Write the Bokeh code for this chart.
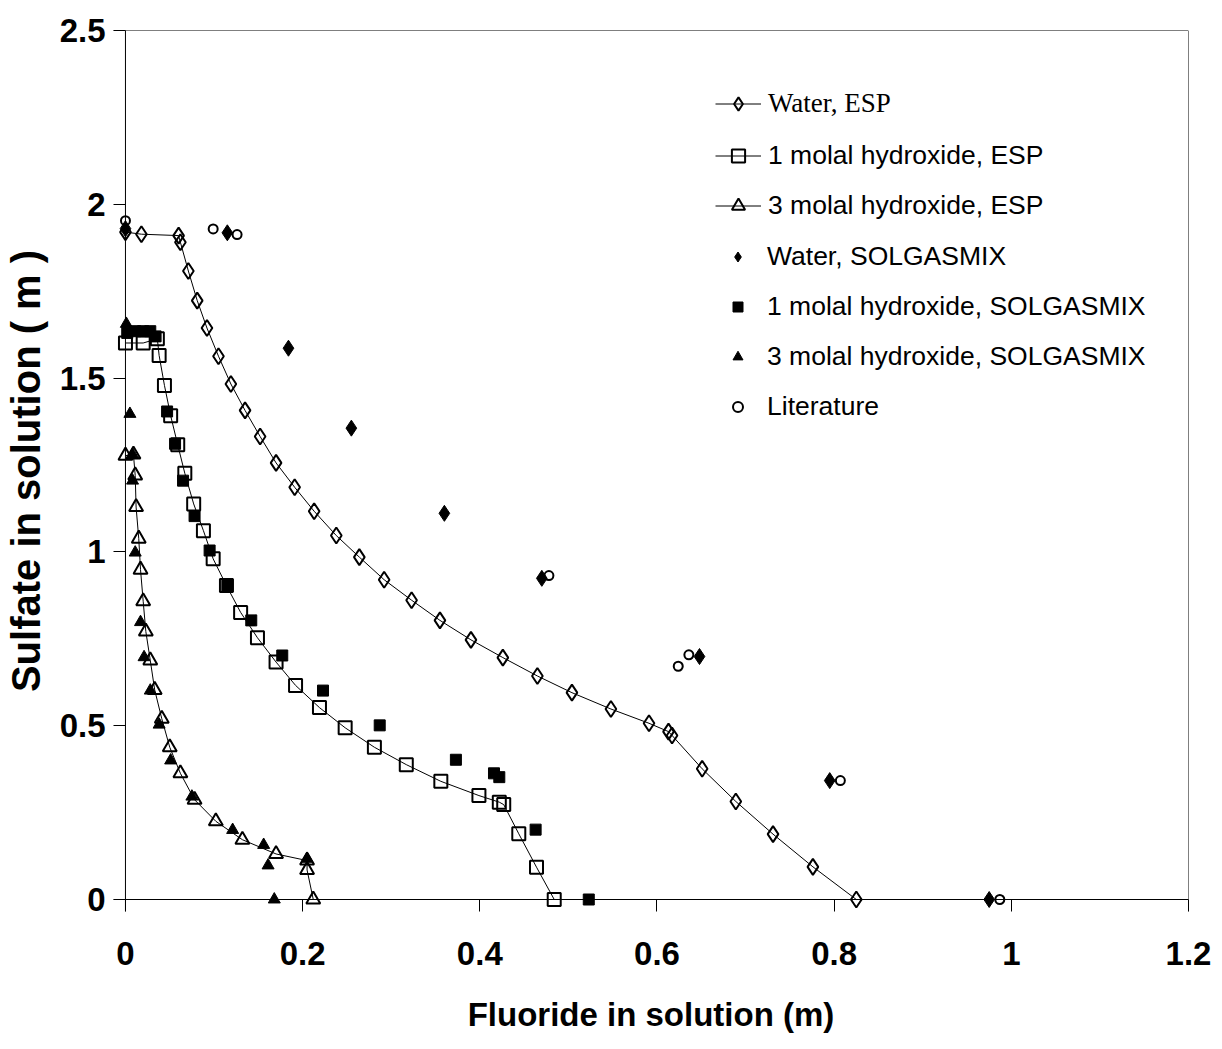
from bokeh.plotting import figure
from bokeh.models import (Range1d, FixedTicker, NumeralTickFormatter, Span,
                          Legend, LegendItem)
from bokeh.embed import file_html
from bokeh.resources import INLINE

# ---------------- data ----------------
x_ticks = [0, 0.2, 0.4, 0.6, 0.8, 1.0, 1.2]
y_ticks = [0, 0.5, 1.0, 1.5, 2.0, 2.5]

water_esp_x = [0.0, 0.018, 0.060, 0.062, 0.071, 0.081, 0.092, 0.105, 0.119, 0.135,
               0.152, 0.170, 0.191, 0.213, 0.238, 0.264, 0.292, 0.323, 0.355, 0.390,
               0.426, 0.465, 0.504, 0.548, 0.591, 0.613, 0.617, 0.651, 0.689, 0.731,
               0.776, 0.825]
water_esp_y = [1.920, 1.914, 1.910, 1.891, 1.808, 1.723, 1.644, 1.563, 1.483, 1.407,
               1.332, 1.256, 1.186, 1.117, 1.047, 0.985, 0.920, 0.861, 0.803, 0.747,
               0.696, 0.643, 0.595, 0.548, 0.507, 0.483, 0.472, 0.376, 0.282, 0.188,
               0.094, 0.0]

one_esp_x = [0.0, 0.020, 0.036, 0.038, 0.044, 0.051, 0.059, 0.067, 0.077, 0.088,
             0.099, 0.114, 0.130, 0.149, 0.170, 0.192, 0.219, 0.248, 0.281, 0.317,
             0.356, 0.399, 0.422, 0.427, 0.444, 0.464, 0.484]
one_esp_y = [1.601, 1.601, 1.613, 1.565, 1.479, 1.392, 1.308, 1.226, 1.138, 1.061,
             0.980, 0.903, 0.826, 0.753, 0.683, 0.616, 0.552, 0.494, 0.438, 0.388,
             0.340, 0.299, 0.280, 0.273, 0.189, 0.093, 0.0]

three_esp_x = [0.0, 0.009, 0.011, 0.012, 0.015, 0.017, 0.020, 0.023, 0.028, 0.033,
               0.041, 0.050, 0.062, 0.078, 0.102, 0.132, 0.170, 0.205, 0.205, 0.212]
three_esp_y = [1.277, 1.280, 1.220, 1.129, 1.038, 0.949, 0.858, 0.771, 0.688, 0.603,
               0.520, 0.438, 0.363, 0.287, 0.225, 0.172, 0.131, 0.112, 0.085, 0.0]

water_sol_x = [0.0, 0.115, 0.184, 0.255, 0.360, 0.470, 0.648, 0.795, 0.975]
water_sol_y = [1.930, 1.918, 1.586, 1.356, 1.111, 0.924, 0.699, 0.342, 0.0]

one_sol_x = [0.002, 0.011, 0.020, 0.028, 0.034, 0.047, 0.056, 0.065, 0.078, 0.095,
             0.115, 0.142, 0.177, 0.223, 0.287, 0.373, 0.416, 0.422, 0.463, 0.523]
one_sol_y = [1.630, 1.635, 1.635, 1.635, 1.620, 1.404, 1.311, 1.205, 1.103, 1.004,
             0.903, 0.803, 0.702, 0.601, 0.501, 0.402, 0.363, 0.352, 0.201, 0.0]

three_sol_x = [0.001, 0.005, 0.008, 0.008, 0.011, 0.017, 0.021, 0.028, 0.038, 0.051,
               0.075, 0.121, 0.156, 0.161, 0.205, 0.168]
three_sol_y = [1.656, 1.397, 1.280, 1.205, 0.998, 0.798, 0.697, 0.601, 0.503, 0.400,
               0.296, 0.200, 0.157, 0.098, 0.117, 0.0]

lit_x = [0.0, 0.099, 0.126, 0.478, 0.624, 0.636, 0.807, 0.987]
lit_y = [1.953, 1.929, 1.913, 0.932, 0.671, 0.704, 0.342, 0.0]

labels = ["Water, ESP", "1 molal hydroxide, ESP", "3 molal hydroxide, ESP",
          "Water, SOLGASMIX", "1 molal hydroxide, SOLGASMIX",
          "3 molal hydroxide, SOLGASMIX", "Literature"]

x_title = "Fluoride in solution (m)"
y_title = "Sulfate in solution ( m )"

# ---------------- layout ----------------
PLOT_W, PLOT_H = 1066, 869      # pixel size of the 0..1.2 x 0..2.5 area
PAD = 12                        # extra room left/below the zero lines
xpad = x_ticks[-1] * PAD / PLOT_W
ypad = y_ticks[-1] * PAD / PLOT_H

FONT = "Liberation Sans"

p = figure(width=1214, height=1045, output_backend="svg", toolbar_location=None,
           x_range=Range1d(-xpad, x_ticks[-1]), y_range=Range1d(-ypad, y_ticks[-1]),
           min_border_left=110, min_border_right=26, min_border_top=30,
           min_border_bottom=134)
p.outline_line_color = None
p.background_fill_color = "white"
p.border_fill_color = "white"
p.xgrid.visible = False
p.ygrid.visible = False

for ax, ticks, standoff in ((p.xaxis, x_ticks, 30), (p.yaxis, y_ticks, 8)):
    ax.ticker = FixedTicker(ticks=ticks)
    ax.formatter = NumeralTickFormatter(format="0.[0]")
    ax.axis_line_color = None
    ax.major_tick_in = 12
    ax.major_tick_out = 0
    ax.major_tick_line_color = "black"
    ax.major_tick_line_width = 1
    ax.minor_tick_line_color = None
    ax.major_label_standoff = standoff
    ax.major_label_text_font = FONT
    ax.major_label_text_font_style = "bold"
    ax.major_label_text_font_size = "33px"
    ax.major_label_text_color = "black"
    ax.axis_label_text_font = FONT
    ax.axis_label_text_font_style = "bold"
    ax.axis_label_text_color = "black"

p.xaxis.axis_label = x_title
p.xaxis.axis_label_text_font_size = "33px"
p.xaxis.axis_label_standoff = 28
p.yaxis.axis_label = y_title
p.yaxis.axis_label_text_font_size = "40px"
p.yaxis.axis_label_standoff = 9

# axis lines and the frame's top/right edges
for loc, dim in ((0, "height"), (0, "width"), (x_ticks[-1], "height"), (y_ticks[-1], "width")):
    p.add_layout(Span(location=loc, dimension=dim, line_color="black", line_width=1))

# ---------------- series ----------------
ln_w = p.line(water_esp_x, water_esp_y, line_color="black", line_width=1)
sc_w = p.scatter(water_esp_x, water_esp_y, marker="diamond", size=16,
                 line_color="black", line_width=2, fill_color=None)
ln_1 = p.line(one_esp_x, one_esp_y, line_color="black", line_width=1)
sc_1 = p.scatter(one_esp_x, one_esp_y, marker="square", size=13,
                 line_color="black", line_width=2, fill_color=None)
ln_3 = p.line(three_esp_x, three_esp_y, line_color="black", line_width=1)
sc_3 = p.scatter(three_esp_x, three_esp_y, marker="triangle", size=14,
                 line_color="black", line_width=2, fill_color=None)
sw = p.scatter(water_sol_x, water_sol_y, marker="diamond", size=16,
               line_color="black", fill_color="black")
s1 = p.scatter(one_sol_x, one_sol_y, marker="square", size=11,
               line_color="black", fill_color="black")
s3 = p.scatter(three_sol_x, three_sol_y, marker="triangle", size=12,
               line_color="black", fill_color="black")
sl = p.scatter(lit_x, lit_y, marker="circle", size=9,
               line_color="black", line_width=2, fill_color=None)

# ---------------- legends ----------------
def make_legend(items, loc, font, size, gw, standoff):
    lg = Legend(items=items, location=loc, glyph_width=gw, glyph_height=33,
                label_height=33, spacing=17, padding=0, margin=0,
                border_line_color=None, background_fill_alpha=0,
                label_standoff=standoff, label_text_font=font,
                label_text_font_size=size, label_text_color="black")
    p.add_layout(lg, "center")

make_legend([LegendItem(label=labels[0], renderers=[ln_w, sc_w])],
            (602, 791), "Liberation Serif", "27px", 46, 7)
make_legend([LegendItem(label=labels[1], renderers=[ln_1, sc_1]),
             LegendItem(label=labels[2], renderers=[ln_3, sc_3])],
            (602, 689), FONT, "26.5px", 46, 7)
make_legend([LegendItem(label=labels[3], renderers=[sw]),
             LegendItem(label=labels[4], renderers=[s1]),
             LegendItem(label=labels[5], renderers=[s3]),
             LegendItem(label=labels[6], renderers=[sl])],
            (612, 488), FONT, "26.5px", 25, 17)

open("out.html", "w").write(file_html(p, INLINE))
